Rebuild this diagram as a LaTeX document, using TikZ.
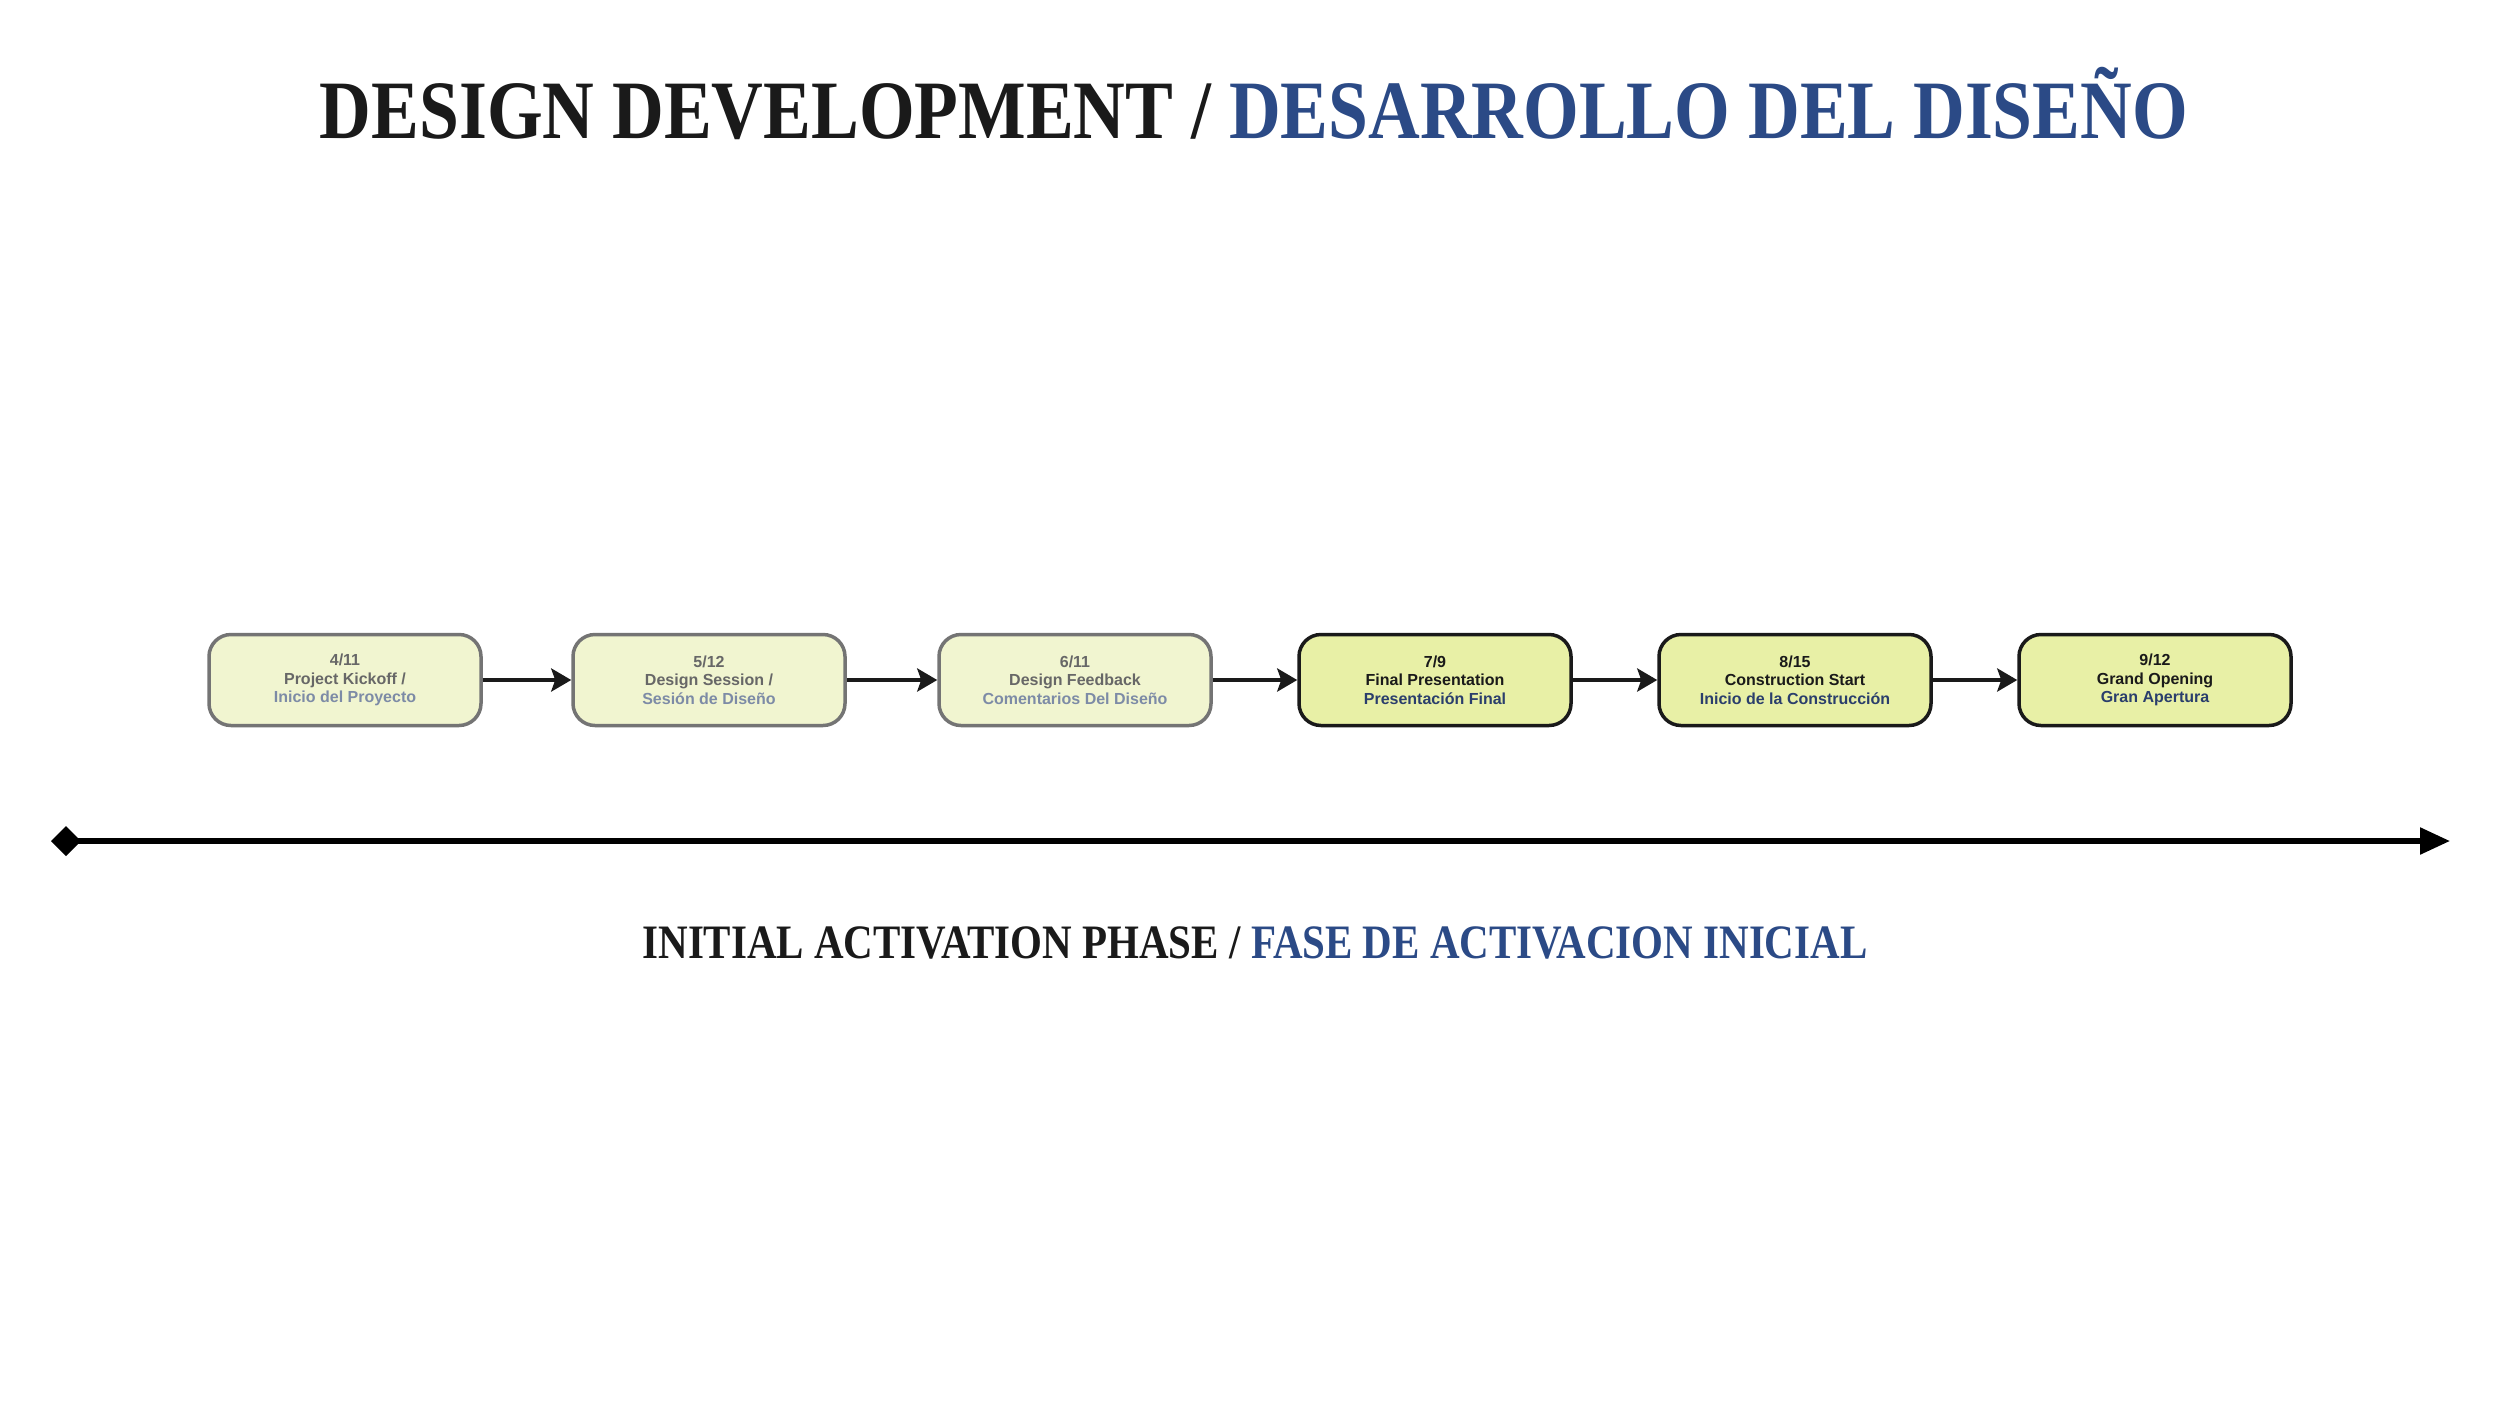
\documentclass[tikz,border=0pt]{standalone}
\usepackage{fontspec}
\usepackage{graphicx}
\usetikzlibrary{arrows.meta}
\setmainfont{Liberation Serif}
\newfontfamily\boxfont{Liberation Sans}
\definecolor{titleblue}{HTML}{2B4A86}
\definecolor{inkblack}{HTML}{1A1A1A}
\definecolor{fadefill}{HTML}{F1F5D0}
\definecolor{activefill}{HTML}{E8F0A6}
\definecolor{fadeborder}{HTML}{747474}
\definecolor{fadetext}{HTML}{676767}
\definecolor{fadeblue}{HTML}{7D8BA6}
\definecolor{activeblue}{HTML}{2A3E6C}
\tikzset{
  x=1pt, y=1pt,
  evbox/.style={rounded corners=22pt, minimum width=272pt, minimum height=91pt,
    line width=3.5pt, align=center, inner sep=0pt,
    font=\boxfont\bfseries\fontsize{16}{18.5}\selectfont},
  fadebox/.style={evbox, draw=fadeborder, fill=fadefill, text=fadetext},
  activebox/.style={evbox, draw=inkblack, fill=activefill, text=inkblack},
  flow/.style={line width=4.5pt, draw=inkblack, -{Stealth[length=20pt,width=23pt,inset=4pt]}},
}
\begin{document}
\begin{tikzpicture}
\useasboundingbox (0,0) rectangle (2500,-1406);
\fill[white] (0,0) rectangle (2500,-1406);
% title
\node[anchor=base, inner sep=0pt] (title) at (1254,-138)
  {\resizebox{1868pt}{\height}{\bfseries\fontsize{83}{90}\selectfont\color{inkblack}DESIGN DEVELOPMENT / \color{titleblue}DESARROLLO DEL DISEÑO}};
% boxes
\node[fadebox] (b1) at (345,-680) {4/11\\Project Kickoff /\\\color{fadeblue}Inicio del Proyecto};
\node[fadebox] (b2) at (709,-680) {5/12\\Design Session /\\\color{fadeblue}Sesión de Diseño};
\node[fadebox] (b3) at (1075,-680) {6/11\\Design Feedback\\\color{fadeblue}Comentarios Del Diseño};
\node[activebox] (b4) at (1435,-680) {7/9\\Final Presentation\\\color{activeblue}Presentación Final};
\node[activebox] (b5) at (1795,-680) {8/15\\Construction Start\\\color{activeblue}Inicio de la Construcción};
\node[activebox] (b6) at (2155,-680) {9/12\\Grand Opening\\\color{activeblue}Gran Apertura};
\draw[flow] (b1) -- (b2);
\draw[flow] (b2) -- (b3);
\draw[flow] (b3) -- (b4);
\draw[flow] (b4) -- (b5);
\draw[flow] (b5) -- (b6);
% timeline
\coordinate (tl) at (51,-841);
\coordinate (tr) at (2450,-841);
\draw[line width=5.5pt, draw=black, {Diamond[length=30pt,width=30pt]}-{Triangle[length=30pt,width=26pt]}] (tl) -- (tr);
% subtitle
\node[anchor=base, inner sep=0pt] (phase) at (1255,-958)
  {\resizebox{1225pt}{\height}{\bfseries\fontsize{48}{54}\selectfont\color{inkblack}INITIAL ACTIVATION PHASE / \color{titleblue}FASE DE ACTIVACION INICIAL}};
\end{tikzpicture}
\end{document}
